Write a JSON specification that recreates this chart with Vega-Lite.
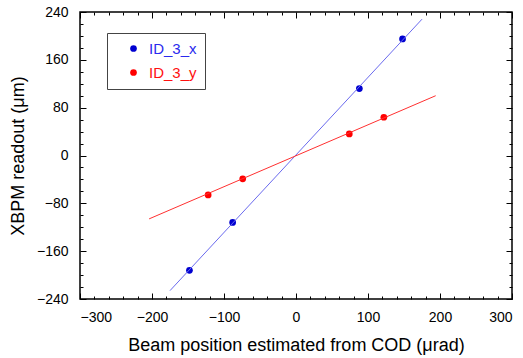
{
  "$schema": "https://vega.github.io/schema/vega-lite/v6.json",
  "width": 432,
  "height": 287,
  "autosize": {"type": "none"},
  "padding": {"left": 80, "top": 12, "right": 11, "bottom": 59},
  "background": "white",
  "config": {
    "view": {"stroke": "black", "strokeWidth": 1.5},
    "font": "Liberation Sans",
    "axis": {"grid": false, "domain": false, "labelFont": "Liberation Sans", "labelFontSize": 14, "labelColor": "black", "titleFont": "Liberation Sans", "titleFontSize": 18, "titleFontWeight": "normal", "titleColor": "black", "tickColor": "black"}
  },
  "datasets": {
    "pts": [
      {"bx": -148, "v": -192, "series": "ID_3_x"},
      {"bx": -88, "v": -112, "series": "ID_3_x"},
      {"bx": 88, "v": 112, "series": "ID_3_x"},
      {"bx": 148, "v": 195, "series": "ID_3_x"},
      {"bx": -122, "v": -66, "series": "ID_3_y"},
      {"bx": -74, "v": -39, "series": "ID_3_y"},
      {"bx": 74, "v": 36, "series": "ID_3_y"},
      {"bx": 122, "v": 64, "series": "ID_3_y"}
    ],
    "fit": [
      {"bx": -175, "v": -226, "line": "ID_3_x fit"},
      {"bx": 175, "v": 228, "line": "ID_3_x fit"},
      {"bx": -204, "v": -106, "line": "ID_3_y fit"},
      {"bx": 194, "v": 100, "line": "ID_3_y fit"}
    ]
  },
  "resolve": {"axis": {"x": "independent", "y": "independent"}},
  "layer": [
    {
      "data": {"name": "pts"},
      "mark": {"type": "circle", "size": 45, "opacity": 1},
      "encoding": {
        "x": {"field": "bx", "type": "quantitative", "scale": {"domain": [-300, 300], "nice": false, "zero": false},
              "axis": {"orient": "bottom", "values": [-300,-200,-100,0,100,200,300], "tickSize": -6, "labelPadding": 17, "title": "Beam position estimated from COD (\u03bcrad)", "titlePadding": 12}},
        "y": {"field": "v", "type": "quantitative", "scale": {"domain": [-240, 240], "nice": false, "zero": false},
              "axis": {"orient": "left", "values": [-240,-160,-80,0,80,160,240], "tickSize": -6, "labelPadding": 18, "title": "XBPM readout (\u03bcm)", "titlePadding": 9}},
        "color": {"field": "series", "type": "nominal", "title": null,
                  "scale": {"domain": ["ID_3_x", "ID_3_y"], "range": ["#0000d0", "#ff0000"]},
                  "legend": {"orient": "none", "legendX": 27, "legendY": 21, "symbolType": "circle", "symbolSize": 45, "symbolStrokeWidth": 0, "labelFontSize": 15, "labelFont": "Liberation Sans",
                             "labelColor": {"expr": "datum.label == 'ID_3_x' ? '#2a2aee' : '#ff1010'"},
                             "strokeColor": "#444", "fillColor": "white", "padding": 8, "rowPadding": 8, "symbolOffset": 11, "labelOffset": 8}}
      }
    },
    {
      "data": {"name": "fit"},
      "mark": {"type": "line", "strokeWidth": 1, "clip": true},
      "encoding": {
        "x": {"field": "bx", "type": "quantitative",
              "axis": {"orient": "bottom", "values": [-280,-260,-240,-220,-180,-160,-140,-120,-80,-60,-40,-20,20,40,60,80,120,140,160,180,220,240,260,280], "tickSize": -3, "labels": false, "title": null}},
        "y": {"field": "v", "type": "quantitative",
              "axis": {"orient": "left", "values": [-220,-200,-180,-140,-120,-100,-60,-40,-20,20,40,60,100,120,140,180,200,220], "tickSize": -3, "labels": false, "title": null}},
        "stroke": {"field": "line", "type": "nominal", "scale": {"domain": ["ID_3_x fit", "ID_3_y fit"], "range": ["#6a6aee", "#ff3030"]}, "legend": null}
      }
    },
    {
      "data": {"name": "pts"},
      "mark": {"type": "circle", "opacity": 0},
      "encoding": {
        "x": {"field": "bx", "type": "quantitative",
              "axis": {"orient": "top", "values": [-300,-200,-100,0,100,200,300], "tickSize": -6, "labels": false, "title": null}},
        "y": {"field": "v", "type": "quantitative",
              "axis": {"orient": "right", "values": [-240,-160,-80,0,80,160,240], "tickSize": -6, "labels": false, "title": null}}
      }
    },
    {
      "data": {"name": "pts"},
      "mark": {"type": "circle", "opacity": 0},
      "encoding": {
        "x": {"field": "bx", "type": "quantitative",
              "axis": {"orient": "top", "values": [-280,-260,-240,-220,-180,-160,-140,-120,-80,-60,-40,-20,20,40,60,80,120,140,160,180,220,240,260,280], "tickSize": -3, "labels": false, "title": null}},
        "y": {"field": "v", "type": "quantitative",
              "axis": {"orient": "right", "values": [-220,-200,-180,-140,-120,-100,-60,-40,-20,20,40,60,100,120,140,180,200,220], "tickSize": -3, "labels": false, "title": null}}
      }
    }
  ]
}
